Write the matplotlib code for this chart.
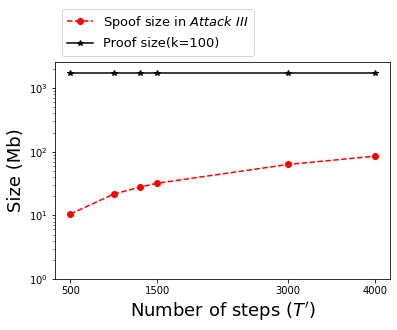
import matplotlib
matplotlib.use("Agg")
import matplotlib.pyplot as plt

steps = [500, 1000, 1300, 1500, 3000, 4000]
spoof_size = [10.5, 21.6, 27.8, 32, 63, 85]
proof_size = [1700, 1700, 1700, 1700, 1700, 1700]
xticks = [500, 1500, 3000, 4000]

fig = plt.figure(figsize=(397/72, 330/72), dpi=72)
ax = fig.add_axes([55/397, 51/330, 335/397, 217/330])
ax.plot(steps, spoof_size, 'r--', marker='o', markersize=6, label='Spoof size in $\\it{Attack\\ III}$')
ax.plot(steps, proof_size, 'k-', marker='*', markersize=6, label='Proof size(k=100)')
ax.set_yscale('log')
ax.set_ylim(1, 2570)
ax.set_xticks(xticks)
ax.set_xticklabels([str(t) for t in xticks])
ax.tick_params(labelsize=10)
ax.set_xlabel("Number of steps ($T'$)", fontsize=18)
ax.set_ylabel("Size (Mb)", fontsize=18)
ax.legend(loc='lower left', bbox_to_anchor=(0.0, 1.0), fontsize=13)
fig.savefig('out.png', dpi=72)
